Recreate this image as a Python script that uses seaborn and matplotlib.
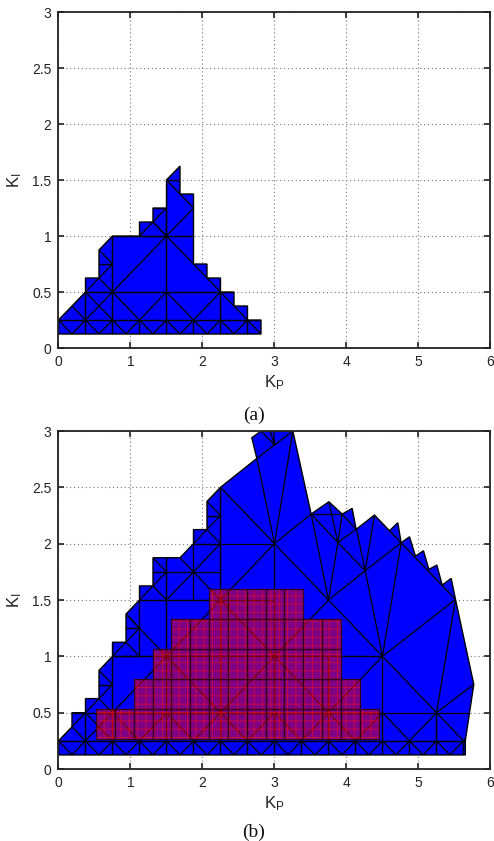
import matplotlib
matplotlib.use("Agg")
import matplotlib.pyplot as plt
import seaborn as sns
from matplotlib.patches import Polygon, Rectangle
from matplotlib.collections import LineCollection

# ---------------- data ----------------
KP_TICKS = [0, 1, 2, 3, 4, 5, 6]
KI_TICKS = [0, 0.5, 1, 1.5, 2, 2.5, 3]
KI_TICK_LABELS = ["0", "0.5", "1", "1.5", "2", "2.5", "3"]

# (a) stabilising region outline (K_P, K_I)
A_KP = [0, 2.8125, 2.8125, 2.625, 2.625, 2.4375, 2.4375, 2.25, 2.25, 2.0625, 2.0625,
        1.875, 1.875, 1.6875, 1.6875, 1.5, 1.5, 1.3125, 1.3125, 1.125, 1.125, 0.75,
        0.5625, 0.5625, 0.375, 0.375, 0]
A_KI = [0.125, 0.125, 0.25, 0.25, 0.375, 0.375, 0.5, 0.5, 0.625, 0.625, 0.75,
        0.75, 1.375, 1.375, 1.625, 1.5, 1.25, 1.25, 1.125, 1.125, 1.0, 1.0,
        0.875, 0.625, 0.625, 0.5, 0.25]

# (a) mesh cells: (kp0, ki0, kp1, ki1, split)
A_CELLS = [
    (0, 0, 0.375, 0.25, 'X'), (0.375, 0, 0.75, 0.25, 'X'), (0.75, 0, 1.125, 0.25, 'X'),
    (1.125, 0, 1.5, 0.25, 'X'), (1.5, 0, 1.875, 0.25, 'X'), (1.875, 0, 2.25, 0.25, 'X'),
    (2.25, 0, 2.625, 0.25, 'X'), (2.625, 0, 3.0, 0.25, 'X'),
    (0, 0.25, 0.375, 0.5, 'X'), (0.375, 0.25, 0.75, 0.5, 'X'), (0.75, 0.25, 1.5, 0.5, 'V'),
    (1.5, 0.25, 2.25, 0.5, 'V'), (2.25, 0.25, 3.0, 0.5, 'V'),
    (0.375, 0.5, 0.75, 0.75, 'X'), (0.375, 0.75, 0.75, 1.0, 'X'),
    (0.75, 0.5, 1.5, 1.0, '/'), (1.5, 0.5, 2.25, 1.0, '\\'), (2.25, 0.5, 3.0, 1.0, '/'),
    (0.75, 1.0, 1.5, 1.5, '\\'), (1.125, 1.0, 1.5, 1.25, 'X'), (1.5, 1.0, 2.25, 1.5, 'X'),
    (1.5, 1.5, 1.875, 1.75, 'X'),
]

# (b) stabilising region outline (K_P, K_I)
B_KP = [0, 5.65, 5.65, 5.768, 5.514, 5.454, 5.329, 5.255, 5.144, 5.069, 4.958, 4.875,
        4.759, 4.713, 4.597, 4.389, 4.134, 4.079, 3.940, 3.755, 3.509, 3.255, 2.815,
        2.685, 2.755, 2.25, 2.0625, 2.0625, 1.875, 1.875, 1.6875, 1.3125, 1.3125,
        1.125, 1.125, 0.9375, 0.9375, 0.75, 0.75, 0.5625, 0.5625, 0.375, 0.375,
        0.1875, 0.1875, 0]
B_KI = [0.125, 0.125, 0.25, 0.751, 1.505, 1.692, 1.633, 1.810, 1.772, 1.937, 1.890, 2.061,
        2.008, 2.186, 2.115, 2.254, 2.127, 2.313, 2.263, 2.372, 2.263, 3.0, 3.0,
        2.940, 2.757, 2.5, 2.375, 2.125, 2.125, 2.0, 1.875, 1.875, 1.625,
        1.625, 1.5, 1.375, 1.125, 1.125, 1.0, 0.875, 0.625, 0.625, 0.5,
        0.5, 0.375, 0.25]

B_CELLS = [
    (0, 0, 0.375, 0.25, 'X'), (0.375, 0, 0.75, 0.25, 'X'), (0.75, 0, 1.125, 0.25, 'X'),
    (1.125, 0, 1.5, 0.25, 'X'), (1.5, 0, 1.875, 0.25, 'X'), (1.875, 0, 2.25, 0.25, 'X'),
    (2.25, 0, 2.625, 0.25, 'X'), (2.625, 0, 3.0, 0.25, 'X'), (3.0, 0, 3.375, 0.25, 'X'),
    (3.375, 0, 3.75, 0.25, 'X'), (3.75, 0, 4.125, 0.25, 'X'), (4.125, 0, 4.5, 0.25, 'X'),
    (4.5, 0, 4.875, 0.25, 'X'), (4.875, 0, 5.25, 0.25, 'X'), (5.25, 0, 5.625, 0.25, 'X'),
    (5.625, 0, 6.0, 0.25, 'X'),
    (0, 0.25, 0.375, 0.5, 'X'), (0.375, 0.25, 0.75, 0.5, 'X'), (0.75, 0.25, 1.5, 0.5, 'V'),
    (1.5, 0.25, 2.25, 0.5, 'V'), (2.25, 0.25, 3.0, 0.5, 'V'), (3.0, 0.25, 3.75, 0.5, 'V'),
    (3.75, 0.25, 4.5, 0.5, 'V'), (4.5, 0.25, 5.25, 0.5, 'V'), (5.25, 0.25, 6.0, 0.5, 'V'),
    (0.375, 0.5, 0.75, 0.75, 'X'), (0.375, 0.75, 0.75, 1.0, 'X'),
    (0.75, 0.5, 1.5, 1.0, '/'), (1.5, 0.5, 2.25, 1.0, '\\'), (2.25, 0.5, 3.0, 1.0, '/'),
    (3.0, 0.5, 3.75, 1.0, '\\'), (3.75, 0.5, 4.5, 1.0, '/'),
    (0.75, 1.0, 1.5, 1.5, '\\'), (0.75, 1.0, 1.125, 1.25, 'X'), (0.75, 1.25, 1.125, 1.5, 'X'),
    (1.5, 1.0, 2.25, 1.5, '/'), (2.25, 1.0, 3.0, 1.5, '\\'),
    (1.125, 1.5, 1.5, 1.75, 'X'), (1.125, 1.75, 1.5, 2.0, 'X'),
    (1.5, 1.5, 2.25, 2.0, 'U'), (2.25, 1.5, 3.0, 2.0, '/'),
    (1.875, 2.0, 2.25, 2.25, 'X'), (1.875, 2.25, 2.25, 2.5, 'X'),
]

# (b) irregular mesh edges near the upper-right border: (kp0, ki0, kp1, ki1)
B_EDGES = [
    (2.25, 2.0, 2.25, 2.5), (2.25, 2.5, 3.0, 2.0),
    (3.0, 2.0, 2.755, 2.757), (3.0, 2.0, 3.255, 3.0), (2.755, 2.757, 3.255, 3.0),
    (2.815, 3.0, 3.0, 2.875), (2.94, 3.0, 3.0, 2.875), (2.99, 3.0, 3.0, 2.875),
    (3.0, 2.0, 3.509, 2.263), (3.509, 2.263, 3.75, 1.5), (3.509, 2.263, 3.88, 2.01),
    (3.755, 2.372, 3.88, 2.01), (3.940, 2.263, 3.88, 2.01), (3.509, 2.263, 3.940, 2.263),
    (3.940, 2.263, 4.134, 2.127), (3.88, 2.01, 4.134, 2.127), (3.88, 2.01, 3.75, 1.5),
    (3.88, 2.01, 4.26, 1.76), (4.079, 2.313, 4.26, 1.76), (4.389, 2.254, 4.26, 1.76),
    (4.389, 2.254, 4.759, 2.008), (4.26, 1.76, 4.759, 2.008), (4.26, 1.76, 3.75, 1.5),
    (4.26, 1.76, 4.5, 1.0), (4.759, 2.008, 4.5, 1.0), (4.759, 2.008, 5.514, 1.505),
    (3.0, 2.0, 4.5, 1.0), (3.0, 1.0, 3.75, 1.5), (3.0, 1.0, 4.5, 1.0),
    (4.5, 1.0, 5.514, 1.505), (4.5, 1.0, 5.25, 0.5), (5.25, 0.5, 5.514, 1.505),
    (5.25, 0.5, 5.768, 0.751),
]

# (b) inner (red) region: rows of cells on a K_P step of 0.2615 and K_I step of 0.2667
RED_DKP = 0.2615
RED_DKI = 0.2667
RED_ROW_KI = [0.2667, 0.5333, 0.8, 1.0667, 1.3333]
RED_ROW_FIRST = [2, 4, 5, 6, 8]
RED_ROW_LAST = [17, 16, 15, 15, 13]

BLUE = "#0000ff"

# ---------------- drawing ----------------
sns.set_theme(style="ticks")
plt.rcParams['font.family'] = ['Liberation Sans', 'DejaVu Sans']
plt.rcParams['hatch.linewidth'] = 0.7
plt.rcParams['mathtext.default'] = 'regular'


def cell_lines(c):
    x0, y0, x1, y1, k = c
    s = [((x0, y0), (x1, y0)), ((x1, y0), (x1, y1)), ((x1, y1), (x0, y1)), ((x0, y1), (x0, y0))]
    xm, ym = (x0 + x1) / 2, (y0 + y1) / 2
    if k in ('X', 'U'):
        s += [((x0, y0), (x1, y1)), ((x0, y1), (x1, y0))]
    if k == 'U':
        s += [((xm, y0), (xm, y1)), ((x0, ym), (x1, ym))]
    if k == '/':
        s.append(((x0, y0), (x1, y1)))
    if k == '\\':
        s.append(((x0, y1), (x1, y0)))
    if k == 'V':
        s += [((x0, y1), (xm, y0)), ((xm, y0), (x1, y1))]
    return s


def draw_region(ax, kp, ki, cells, edges=()):
    poly = Polygon(list(zip(kp, ki)), closed=True, facecolor=BLUE, edgecolor='none', zorder=2)
    ax.add_patch(poly)
    segs = []
    for c in cells:
        segs += cell_lines(c)
    for e in edges:
        segs.append(((e[0], e[1]), (e[2], e[3])))
    lc = LineCollection(segs, colors='black', linewidths=0.9, zorder=3)
    ax.add_collection(lc)
    lc.set_clip_path(poly)
    outline = Polygon(list(zip(kp, ki)), closed=True, fill=False, edgecolor='black',
                      linewidth=1.0, zorder=4)
    ax.add_patch(outline)


def style(ax):
    ax.set_xlim(0, 6)
    ax.set_ylim(0, 3)
    ax.set_xticks(KP_TICKS)
    ax.set_yticks(KI_TICKS)
    ax.set_yticklabels(KI_TICK_LABELS)
    ax.tick_params(direction='in', top=True, right=True, length=4, width=1.2,
                   labelsize=10, pad=5, colors='#222222')
    ax.grid(True, color='#777777', linestyle=(0, (1, 2.5)), linewidth=0.8)
    ax.set_axisbelow(True)
    for s in ax.spines.values():
        s.set_linewidth(1.3)
        s.set_color('#222222')
        s.set_zorder(6)
    ax.set_xlabel('K$_{P}$', fontsize=12, labelpad=3, color='#222222')
    ax.set_ylabel('K$_{I}$', fontsize=12, labelpad=6, color='#222222')


fig = plt.figure(figsize=(4.94, 8.41), dpi=100)
ax_a = fig.add_axes([0.1184, 0.5862, 0.8745, 0.3995])
ax_b = fig.add_axes([0.1184, 0.0856, 0.8745, 0.4019])

draw_region(ax_a, A_KP, A_KI, A_CELLS)
draw_region(ax_b, B_KP, B_KI, B_CELLS, B_EDGES)

for y0, k0, k1 in zip(RED_ROW_KI, RED_ROW_FIRST, RED_ROW_LAST):
    for k in range(k0, k1):
        x0 = k * RED_DKP
        ax_b.add_patch(Rectangle((x0, y0), RED_DKP, RED_DKI, facecolor=(1, 0, 0.05, 0.5),
                                 edgecolor='none', zorder=5))
        ax_b.add_patch(Rectangle((x0, y0), RED_DKP, RED_DKI, fill=False, hatch='++',
                                 edgecolor=(1, 0.05, 0.05, 0.55), linewidth=0, zorder=5))
        ax_b.add_patch(Rectangle((x0, y0), RED_DKP, RED_DKI, fill=False,
                                 edgecolor=(0.2, 0, 0.1), linewidth=0.9, zorder=5))

style(ax_a)
style(ax_b)

fig.text(0.514, 1 - 415 / 841, '(a)', ha='center', va='center', fontsize=14,
         family='Liberation Serif', color='#111111')
fig.text(0.514, 1 - 832 / 841, '(b)', ha='center', va='center', fontsize=14,
         family='Liberation Serif', color='#111111')

fig.savefig('out.png', dpi=100)
